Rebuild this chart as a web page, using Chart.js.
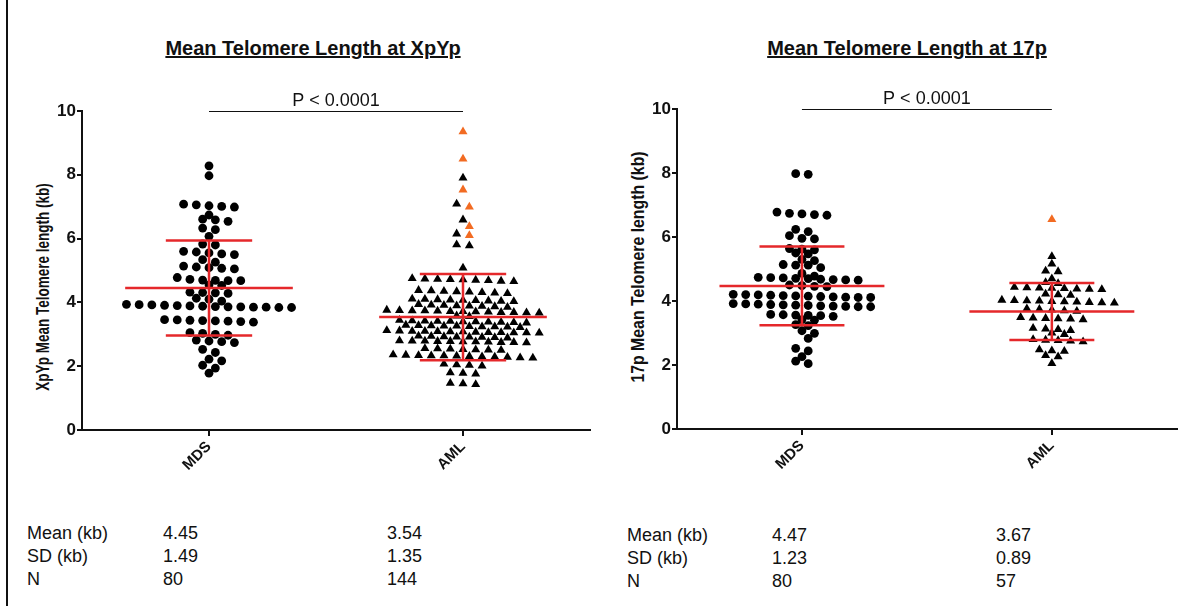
<!DOCTYPE html>
<html lang="en">
<head>
<meta charset="utf-8">
<title>Mean Telomere Length</title>
<script src="https://cdn.jsdelivr.net/npm/chart.js@4.4.1/dist/chart.umd.min.js"></script>
<style>
  html, body { margin: 0; padding: 0; background: #fff; }
  body {
    position: relative; width: 1182px; height: 606px; overflow: hidden;
    font-family: 'Liberation Sans', Arial, Helvetica, sans-serif; color: #111;
  }
  .edge { position: absolute; left: 6px; top: 0; width: 2px; height: 606px; background: #111; }
  .panel-title {
    position: absolute; top: 37px; transform: translateX(-50%);
    font-size: 20px; font-weight: bold; text-decoration: underline; white-space: nowrap;
  }
  .y-title {
    position: absolute; font-weight: bold; font-size: 18px; white-space: nowrap;
  }
  .chart-box { position: absolute; top: 0; height: 480px; }
  .stats { position: absolute; font-size: 18px; line-height: 22.8px; white-space: nowrap; }
</style>
</head>
<body>
<div class="edge"></div>
<div class="panel-title" style="left:313px">Mean Telomere Length at XpYp</div>
<div class="panel-title" style="left:907px">Mean Telomere Length at 17p</div>
<div class="y-title" style="left:43px; top:287px; transform:translate(-50%, -50%) rotate(-90deg) scaleX(0.75)">XpYp Mean Telomere length (kb)</div>
<div class="y-title" style="left:638px; top:267px; transform:translate(-50%, -50%) rotate(-90deg) scaleX(0.88)">17p Mean Telomere length (kb)</div>
<div class="chart-box" style="left:0; width:600px"><canvas id="xpyp"></canvas></div>
<div class="chart-box" style="left:595px; width:587px"><canvas id="p17"></canvas></div>

<script>
// ------------------------------------------------------------
//  Data (telomere length, kb)
// ------------------------------------------------------------
const groups     = ['MDS', 'AML']
const yTicks     = [0, 2, 4, 6, 8, 10]
const statLabels = ['Mean (kb)', 'SD (kb)', 'N']
const pLabel     = 'P < 0.0001'

// XpYp
const xpypMds = [
  8.28, 7.97,
  7.08, 7.06, 7.03, 7.01, 6.99,
  6.74,
  6.61, 6.59, 6.54,
  6.33, 6.28,
  6.07,
  5.83, 5.80,
  5.60, 5.58, 5.55, 5.52, 5.50,
  5.34, 5.26,
  5.14, 5.11, 5.09, 5.07, 5.05,
  4.78, 4.72, 4.70, 4.69, 4.68, 4.68,
  4.55, 4.53,
  4.32, 4.31, 4.30, 4.28,
  4.13, 4.10, 4.04,
  3.94, 3.93, 3.92, 3.91, 3.90, 3.89, 3.88, 3.87, 3.86, 3.86, 3.85, 3.85, 3.84, 3.84,
  3.46, 3.45, 3.44, 3.43, 3.42, 3.41, 3.40, 3.38,
  3.05, 3.03, 3.00, 2.97,
  2.82, 2.79, 2.77, 2.74,
  2.53, 2.43,
  2.22, 2.17,
  2.03, 1.94,
  1.78,
]
const xpypAml = [
  7.90, 7.09, 6.59, 6.15, 5.81, 5.78, 5.08,
  4.75, 4.74, 4.73, 4.72, 4.71, 4.70, 4.69, 4.67, 4.66,
  4.38, 4.37, 4.35, 4.34, 4.33, 4.31, 4.30, 4.28,
  4.11, 4.10, 4.09, 4.08, 4.07, 4.06, 4.05, 4.04, 4.03,
  3.94, 3.92, 3.91, 3.90, 3.89, 3.88, 3.87, 3.85,
  3.76, 3.75, 3.74, 3.74, 3.73, 3.72, 3.72, 3.71, 3.70, 3.69, 3.69, 3.68, 3.67,
  3.58, 3.56,
  3.44, 3.43, 3.42, 3.41, 3.41, 3.40, 3.40, 3.39, 3.38, 3.37, 3.36,
  3.29, 3.28, 3.27, 3.26, 3.26, 3.25, 3.24, 3.24, 3.23, 3.22,
  3.12, 3.11, 3.10, 3.10, 3.09, 3.08, 3.08, 3.07, 3.06, 3.06, 3.05, 3.05, 3.04,
  2.95, 2.94, 2.93, 2.92, 2.92, 2.91, 2.90, 2.89,
  2.80, 2.79, 2.79, 2.78, 2.78, 2.77, 2.77, 2.76, 2.75, 2.75, 2.74,
  2.56, 2.55, 2.54, 2.53, 2.52, 2.51, 2.50,
  2.36, 2.35, 2.34, 2.33, 2.33, 2.32, 2.31, 2.30, 2.29, 2.28, 2.27, 2.26,
  2.07, 2.05, 2.03, 2.01,
  1.80, 1.78, 1.76,
  1.47, 1.45, 1.43,
]
const xpypAmlFlagged = [9.35, 8.50, 7.53, 6.99, 6.38, 6.10]
const xpypMean = [4.45, 3.54]
const xpypSd   = [1.49, 1.35]
const xpypN    = [80, 144]

// 17p
const p17Mds = [
  7.98, 7.96,
  6.78, 6.74, 6.72, 6.70, 6.68,
  6.24, 6.17,
  6.04, 5.96, 5.94,
  5.64, 5.62, 5.60,
  5.50, 5.47,
  5.30, 5.26,
  5.14, 5.12, 5.12, 5.04,
  4.86, 4.78,
  4.74, 4.73, 4.72, 4.71, 4.70, 4.68, 4.67, 4.66, 4.65,
  4.50, 4.48, 4.46, 4.45,
  4.21, 4.20, 4.19, 4.18, 4.17, 4.16, 4.15, 4.14, 4.13, 4.12, 4.11, 4.11,
  3.92, 3.91, 3.90, 3.89, 3.88, 3.87, 3.86, 3.85, 3.84, 3.83, 3.82, 3.82,
  3.58, 3.57, 3.56, 3.55, 3.54, 3.52,
  3.42, 3.40,
  3.26, 3.23,
  3.07, 2.99,
  2.83,
  2.52, 2.44,
  2.26,
  2.12, 2.04,
]
const p17Aml = [
  5.39, 5.16, 4.94, 4.92, 4.70, 4.58, 4.55,
  4.43, 4.42, 4.41, 4.40, 4.39, 4.38, 4.37, 4.36,
  4.22, 4.20, 4.18,
  4.03, 4.02, 4.01, 4.00, 3.99, 3.98, 3.97, 3.96, 3.95, 3.94,
  3.76, 3.74, 3.72, 3.70, 3.68,
  3.49, 3.47, 3.46, 3.45, 3.44, 3.42,
  3.15, 3.13, 3.11, 3.08,
  3.00, 2.96,
  2.80, 2.78, 2.77, 2.75, 2.73,
  2.48, 2.45, 2.43,
  2.30, 2.26,
  2.05,
]
const p17AmlFlagged = [6.55]
const p17Mean = [4.47, 3.67]
const p17Sd   = [1.23, 0.89]
const p17N    = [80, 57]

// ------------------------------------------------------------
//  Look & feel
// ------------------------------------------------------------
const FONT   = "'Liberation Sans', Arial, Helvetica, sans-serif"
const INK    = '#111'
const RED    = '#e5282b'
const ORANGE = '#f26b22'
const STEP   = 0.05   // horizontal spacing between neighbours in a row (x units)
const BIN    = 0.11   // values closer than this share a row (kb)

Chart.defaults.font.family = FONT
Chart.defaults.color = INK

// ------------------------------------------------------------
//  Column scatter layout: values are grouped into rows and the
//  rows are spread symmetrically around the column centre.
//  A row is nudged half a step when it would sit right on top
//  of a point in the row just above it.
// ------------------------------------------------------------
function swarm(items, center, gap) {
  const sorted = [...items].sort((a, b) => b.v - a.v)
  const placed = []
  let i = 0
  while (i < sorted.length) {
    const top = sorted[i].v
    const row = []
    while (i < sorted.length && top - sorted[i].v <= BIN + 1e-9) row.push(sorted[i++])

    const mid = (row.length - 1) / 2
    const fits = shift => row.every((p, k) => {
      const x = center + (k - mid + shift) * STEP
      return placed.every(q => Math.abs(q.y - p.v) >= gap || Math.abs(q.x - x) >= STEP * 0.45)
    })
    const shift = [0, 0.5, -0.5, 1, -1, 1.5, -1.5].find(fits) ?? 0
    row.forEach((p, k) => placed.push({ x: center + (k - mid + shift) * STEP, y: p.v, flag: p.flag }))
  }
  return placed
}

// ------------------------------------------------------------
//  Mean ± SD bars and the significance bracket
// ------------------------------------------------------------
const summaryPlugin = {
  id: 'summary',
  afterDatasetsDraw(chart, args, opts) {
    const { ctx, scales: { x, y } } = chart
    ctx.save()

    ctx.strokeStyle = RED
    ctx.lineWidth = 2.5
    opts.mean.forEach((m, i) => {
      const c = i + 1
      const hi = m + opts.sd[i]
      const lo = m - opts.sd[i]
      ctx.beginPath()
      ctx.moveTo(x.getPixelForValue(c - 0.33), y.getPixelForValue(m))
      ctx.lineTo(x.getPixelForValue(c + 0.33), y.getPixelForValue(m))
      ctx.moveTo(x.getPixelForValue(c), y.getPixelForValue(hi))
      ctx.lineTo(x.getPixelForValue(c), y.getPixelForValue(lo))
      ctx.moveTo(x.getPixelForValue(c - 0.17), y.getPixelForValue(hi))
      ctx.lineTo(x.getPixelForValue(c + 0.17), y.getPixelForValue(hi))
      ctx.moveTo(x.getPixelForValue(c - 0.17), y.getPixelForValue(lo))
      ctx.lineTo(x.getPixelForValue(c + 0.17), y.getPixelForValue(lo))
      ctx.stroke()
    })

    // bracket between the two groups
    const x1 = x.getPixelForValue(1)
    const x2 = x.getPixelForValue(2)
    const py = Math.round(y.getPixelForValue(opts.bracketAt)) + 0.5
    ctx.strokeStyle = INK
    ctx.lineWidth = 1
    ctx.beginPath()
    ctx.moveTo(x1, py)
    ctx.lineTo(x2, py)
    ctx.stroke()

    ctx.fillStyle = INK
    ctx.font = `18px ${FONT}`
    ctx.textAlign = 'center'
    ctx.textBaseline = 'bottom'
    ctx.fillText(pLabel, (x1 + x2) / 2, py - 1)

    ctx.restore()
  }
}

// ------------------------------------------------------------
//  One panel
// ------------------------------------------------------------
function buildChart(id, cfg) {
  const mds = swarm(cfg.mds.map(v => ({ v, flag: false })), 1, 0.27)
  const aml = swarm([
    ...cfg.aml.map(v => ({ v, flag: false })),
    ...cfg.amlFlagged.map(v => ({ v, flag: true })),
  ], 2, 0.22)

  const axisTicks = { color: INK, font: { family: FONT, weight: 'bold' } }
  const axisGrid  = { drawOnChartArea: false, drawTicks: true, tickLength: 5, color: INK, lineWidth: 2 }
  const axisLine  = { display: true, color: INK, width: 2 }

  return new Chart(document.getElementById(id), {
    type: 'scatter',
    data: {
      datasets: [
        { label: 'MDS', data: mds, pointStyle: 'circle', pointRadius: 4.4,
          backgroundColor: '#000', borderWidth: 0 },
        { label: 'AML', data: aml.filter(p => !p.flag), pointStyle: 'triangle', pointRadius: 5.2,
          backgroundColor: '#000', borderWidth: 0 },
        { label: 'AML (flagged)', data: aml.filter(p => p.flag), pointStyle: 'triangle', pointRadius: 5.2,
          backgroundColor: ORANGE, borderWidth: 0 },
      ]
    },
    options: {
      responsive: true,
      maintainAspectRatio: false,
      animation: false,
      events: [],
      layout: { padding: cfg.padding },
      plugins: {
        legend:  { display: false },
        tooltip: { enabled: false },
        summary: { mean: cfg.mean, sd: cfg.sd, bracketAt: 10 },
      },
      scales: {
        x: {
          type: 'linear',
          min: 0.5,
          max: 2.5,
          afterBuildTicks: s => { s.ticks = groups.map((g, i) => ({ value: i + 1 })) },
          afterFit: s => { s.height = cfg.xAxisHeight },
          ticks: {
            ...axisTicks,
            font: { ...axisTicks.font, size: 15 },
            autoSkip: false,
            minRotation: 45,
            maxRotation: 45,
            padding: 2,
            callback: v => groups[v - 1],
          },
          grid: { ...axisGrid, tickLength: 6 },
          border: axisLine,
        },
        y: {
          min: 0,
          max: 10,
          afterBuildTicks: s => { s.ticks = yTicks.map(value => ({ value })) },
          afterFit: s => { s.width = 52 },
          ticks: { ...axisTicks, font: { ...axisTicks.font, size: 17 }, padding: 1 },
          grid: axisGrid,
          border: axisLine,
        }
      }
    },
    plugins: [summaryPlugin]
  })
}

// ------------------------------------------------------------
//  Summary table under each panel
// ------------------------------------------------------------
function addStats(labelX, valueXs, top, mean, sd, n) {
  const cols = [[labelX, statLabels]]
  valueXs.forEach((x, i) => cols.push([x, [mean[i].toFixed(2), sd[i].toFixed(2), String(n[i])]]))
  cols.forEach(([x, lines]) => {
    const el = document.createElement('div')
    el.className = 'stats'
    el.style.left = x + 'px'
    el.style.top = top + 'px'
    el.innerHTML = lines.join('<br>')
    document.body.appendChild(el)
  })
}

buildChart('xpyp', {
  mds: xpypMds, aml: xpypAml, amlFlagged: xpypAmlFlagged,
  mean: xpypMean, sd: xpypSd,
  padding: { left: 30, top: 111, right: 10, bottom: 0 },
  xAxisHeight: 50,
})

buildChart('p17', {
  mds: p17Mds, aml: p17Aml, amlFlagged: p17AmlFlagged,
  mean: p17Mean, sd: p17Sd,
  padding: { left: 30, top: 109, right: 2, bottom: 0 },
  xAxisHeight: 51,
})

addStats(27, [163, 387], 522, xpypMean, xpypSd, xpypN)
addStats(627, [772, 996], 524, p17Mean, p17Sd, p17N)
</script>
</body>
</html>
